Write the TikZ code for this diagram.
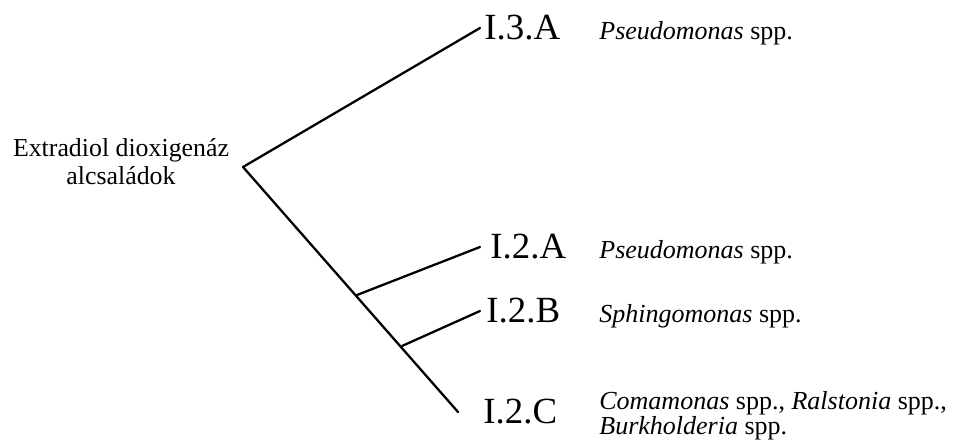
\documentclass[tikz,border=0pt]{standalone}
\usepackage{fontspec}
\setmainfont{Liberation Serif}
\usetikzlibrary{positioning}

\begin{document}
\begin{tikzpicture}[
    branch/.style={line width=1.3pt, line cap=round, line join=round},
    clade/.style={inner sep=0pt, font=\fontsize{21}{24}\selectfont},
    taxon/.style={inner sep=0pt, align=left, font=\fontsize{14.8}{14.2}\selectfont},
    family/.style={inner sep=0pt, align=center, font=\fontsize{14.7}{16}\selectfont}]

    \useasboundingbox (0,0) rectangle (19.08,8.86);

    % tree points
    \coordinate (root) at (4.86,5.52);
    \coordinate (fa) at (7.14,2.96);
    \coordinate (fb) at (8.04,1.94);
    \coordinate (e3a) at (9.60,8.30);
    \coordinate (e2a) at (9.60,3.92);
    \coordinate (e2b) at (9.60,2.64);
    \coordinate (e2c) at (9.16,0.62);
    \coordinate (col) at (11.98,0);

    \node[family, anchor=north] (fam) at (2.42,6.10) {Extradiol dioxigenáz\\alcsaládok};

    \node[clade, right=0.08cm of e3a] (i3a) {I.3.A};
    \node[clade, right=0.20cm of e2a] (i2a) {I.2.A};
    \node[clade, right=0.12cm of e2b] (i2b) {I.2.B};
    \node[clade, right=0.50cm of e2c] (i2c) {I.2.C};

    \node[taxon, anchor=base west] (s3a) at (col |- i3a.base) {\textit{Pseudomonas} spp.};
    \node[taxon, anchor=base west] (s2a) at (col |- i2a.base) {\textit{Pseudomonas} spp.};
    \node[taxon, anchor=base west] (s2b) at (col |- i2b.base) {\textit{Sphingomonas} spp.};
    \node[taxon, anchor=north west] (s2c) at (11.98,1.04) {\textit{Comamonas} spp., \textit{Ralstonia} spp.,\\\textit{Burkholderia} spp.};

    \draw[branch] (e3a) -- (root) -- (e2c);
    \draw[branch] (fa) -- (e2a);
    \draw[branch] (fb) -- (e2b);
\end{tikzpicture}
\end{document}
